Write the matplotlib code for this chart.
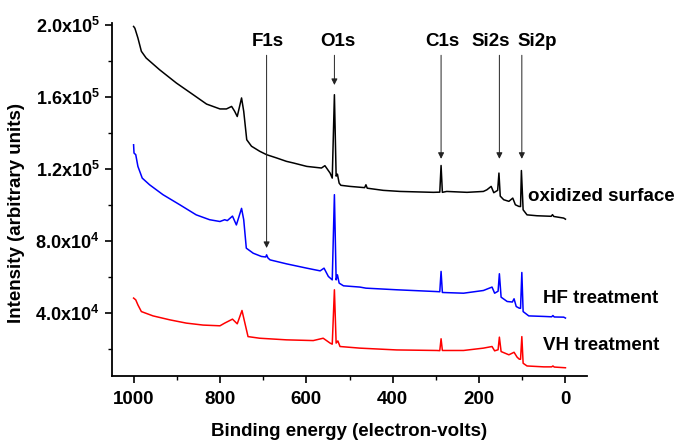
#!/usr/bin/env python3

"""
XPS survey spectra: oxidized surface, HF treatment, VH treatment
"""

import matplotlib
matplotlib.use("Agg")
import matplotlib.pyplot as plt
from matplotlib.ticker import FixedLocator, MultipleLocator

plt.rcParams["font.family"] = ["Liberation Sans", "DejaVu Sans"]
plt.rcParams["font.weight"] = "bold"
plt.rcParams["mathtext.fontset"] = "custom"
plt.rcParams["mathtext.rm"] = "Liberation Sans:bold"
plt.rcParams["mathtext.bf"] = "Liberation Sans:bold"
plt.rcParams["mathtext.default"] = "bf"

# oxidized surface (black)
ox_energy = [1000, 997, 990, 982, 971, 940, 901, 862, 831, 800, 785, 773, 766, 760,
             750, 745, 738, 727, 708, 692, 669, 646, 630, 599, 565, 557, 545, 540,
             535, 531, 528, 524, 520, 499, 465, 462, 459, 422, 383, 306, 291, 288,
             285, 275, 228, 190, 182, 172, 166, 157, 154, 151, 143, 131, 122, 116,
             108, 104, 102, 98, 89, 66, 33, 30, 27, 4, 0]
ox_counts = [1.99e5, 1.98e5, 1.926e5, 1.852e5, 1.815e5, 1.75e5, 1.676e5, 1.611e5,
             1.559e5, 1.532e5, 1.532e5, 1.546e5, 1.519e5, 1.49e5, 1.593e5, 1.519e5,
             1.361e5, 1.325e5, 1.297e5, 1.278e5, 1.26e5, 1.241e5, 1.232e5, 1.213e5,
             1.204e5, 1.217e5, 1.176e5, 1.148e5, 1.611e5, 1.159e5, 1.17e5, 1.12e5,
             1.108e5, 1.102e5, 1.095e5, 1.111e5, 1.092e5, 1.08e5, 1.074e5, 1.069e5,
             1.07e5, 1.218e5, 1.069e5, 1.074e5, 1.069e5, 1.074e5, 1.083e5, 1.102e5,
             1.067e5, 1.08e5, 1.176e5, 1.048e5, 1.028e5, 1.019e5, 1.037e5, 1.0e5,
             0.991e5, 0.99e5, 1.19e5, 0.972e5, 0.944e5, 0.939e5, 0.936e5, 0.945e5,
             0.935e5, 0.926e5, 0.92e5]

# HF treatment (blue)
hf_energy = [1000, 999, 995, 990, 980, 963, 932, 893, 855, 824, 800, 789, 783, 771,
             762, 750, 745, 739, 723, 704, 694, 692, 689, 684, 646, 599, 568, 559,
             549, 540, 535, 531, 528, 524, 514, 476, 462, 391, 298, 291, 288, 285,
             236, 190, 170, 164, 156, 153, 149, 135, 123, 119, 114, 107, 104, 101,
             98, 85, 50, 32, 29, 26, 4, 0]
hf_counts = [1.333e5, 1.287e5, 1.278e5, 1.213e5, 1.148e5, 1.111e5, 1.056e5, 1.0e5,
             0.944e5, 0.917e5, 0.907e5, 0.917e5, 0.912e5, 0.937e5, 0.888e5, 0.98e5,
             0.917e5, 0.759e5, 0.731e5, 0.713e5, 0.71e5, 0.722e5, 0.705e5, 0.694e5,
             0.672e5, 0.648e5, 0.633e5, 0.648e5, 0.602e5, 0.583e5, 1.056e5, 0.583e5,
             0.611e5, 0.565e5, 0.55e5, 0.543e5, 0.537e5, 0.528e5, 0.518e5, 0.517e5,
             0.63e5, 0.513e5, 0.509e5, 0.524e5, 0.543e5, 0.509e5, 0.52e5, 0.617e5,
             0.487e5, 0.463e5, 0.46e5, 0.478e5, 0.435e5, 0.426e5, 0.425e5, 0.624e5,
             0.407e5, 0.383e5, 0.38e5, 0.378e5, 0.385e5, 0.377e5, 0.376e5, 0.371e5]

# VH treatment (red)
vh_energy = [1000, 995, 990, 982, 955, 916, 878, 839, 800, 789, 771, 760, 749, 744,
             735, 708, 646, 584, 561, 545, 540, 535, 531, 527, 522, 476, 391, 298,
             291, 288, 285, 236, 190, 170, 164, 156, 153, 149, 131, 119, 112, 107,
             104, 101, 98, 89, 50, 32, 29, 26, 0]
vh_counts = [0.482e5, 0.472e5, 0.444e5, 0.407e5, 0.383e5, 0.361e5, 0.343e5, 0.332e5,
             0.328e5, 0.343e5, 0.365e5, 0.339e5, 0.413e5, 0.361e5, 0.268e5, 0.259e5,
             0.25e5, 0.246e5, 0.259e5, 0.232e5, 0.226e5, 0.528e5, 0.232e5, 0.244e5,
             0.213e5, 0.204e5, 0.194e5, 0.191e5, 0.19e5, 0.256e5, 0.191e5, 0.191e5,
             0.204e5, 0.213e5, 0.189e5, 0.195e5, 0.265e5, 0.185e5, 0.167e5, 0.181e5,
             0.154e5, 0.143e5, 0.142e5, 0.268e5, 0.12e5, 0.105e5, 0.1e5, 0.1e5,
             0.105e5, 0.099e5, 0.095e5]

peak_names = ["F1s", "O1s", "C1s", "Si2s", "Si2p"]
peak_energy = [692, 535, 288, 153, 101]
peak_tip = [7.6e4, 1.665e5, 1.255e5, 1.255e5, 1.255e5]
peak_label_energy = [689, 527, 285, 172, 65]

y_ticks = [4e4, 8e4, 1.2e5, 1.6e5, 2.0e5]
y_ticklabels = ["4.0x10$^{4}$", "8.0x10$^{4}$", "1.2x10$^{5}$",
                "1.6x10$^{5}$", "2.0x10$^{5}$"]

fig = plt.figure(figsize=(6.85, 4.48), dpi=100)
ax = fig.add_axes([0.1635, 0.161, 0.6935, 0.788])

ax.plot(ox_energy, ox_counts, color="black", lw=1.1)
ax.plot(hf_energy, hf_counts, color="#0000ff", lw=1.1)
ax.plot(vh_energy, vh_counts, color="#ff0000", lw=1.1)

ax.set_xlim(1050, -50)
ax.set_ylim(5000, 2.01e5)

for name, e, tip, le in zip(peak_names, peak_energy, peak_tip, peak_label_energy):
    ax.annotate("", xy=(e, tip), xytext=(e, 1.83e5),
                arrowprops=dict(arrowstyle="-|>", color="#222222", lw=0.7,
                                mutation_scale=9, shrinkA=0, shrinkB=0))
    ax.text(le, 1.905e5, name, ha="center", va="center", fontsize=13.5,
            fontweight="bold", clip_on=False)

ax.text(86, 1.044e5, "oxidized surface", ha="left", va="center",
        fontsize=13.5, fontweight="bold", clip_on=False)
ax.text(51, 4.78e4, "HF treatment", ha="left", va="center",
        fontsize=13.5, fontweight="bold", clip_on=False)
ax.text(53, 2.17e4, "VH treatment", ha="left", va="center",
        fontsize=13.5, fontweight="bold", clip_on=False)

ax.xaxis.set_major_locator(FixedLocator([1000, 800, 600, 400, 200, 0]))
ax.xaxis.set_minor_locator(MultipleLocator(100))
ax.yaxis.set_major_locator(FixedLocator(y_ticks))
ax.set_yticklabels(y_ticklabels)
ax.yaxis.set_minor_locator(MultipleLocator(2e4))

ax.spines["top"].set_visible(False)
ax.spines["right"].set_visible(False)
for s in ["left", "bottom"]:
    ax.spines[s].set_linewidth(1.3)
ax.tick_params(which="major", direction="out", length=5, width=1.2,
               labelsize=13, pad=4)
ax.tick_params(which="minor", direction="out", length=3, width=1.0)
ax.tick_params(axis="x", pad=6, labelsize=13.5)
for lab in ax.get_xticklabels() + ax.get_yticklabels():
    lab.set_fontweight("bold")

ax.set_xlabel("Binding energy (electron-volts)", fontsize=13.5,
              fontweight="bold", labelpad=11)
ax.set_ylabel("Intensity (arbitrary units)", fontsize=13.5,
              fontweight="bold")
ax.yaxis.set_label_coords(-0.183, 0.462)

fig.savefig("out.png", dpi=100)
plt.close(fig)
